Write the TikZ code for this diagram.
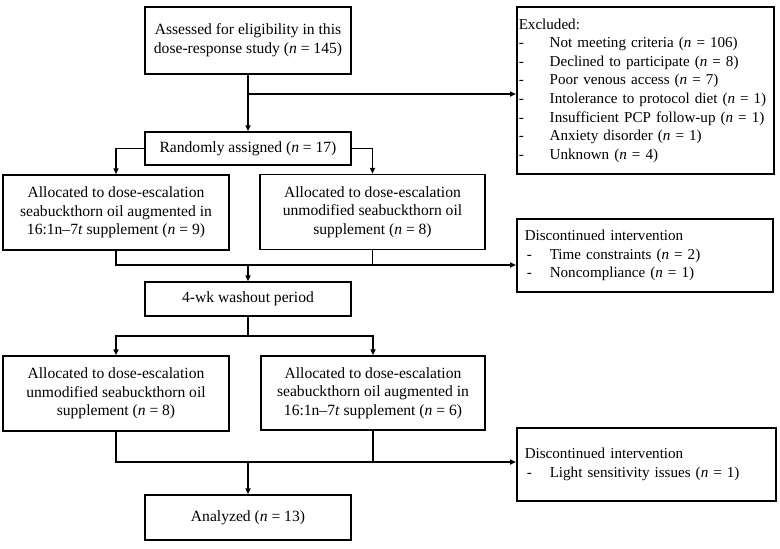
\documentclass[tikz,border=0pt]{standalone}
\usepackage{fontspec}
\setmainfont{Liberation Serif}
\usetikzlibrary{arrows.meta}
\newcommand{\nn}{\textit{n}}
\newcommand{\itm}[1]{\mbox{\makebox[31pt][l]{-}#1}}
\newcommand{\ditm}[1]{\mbox{\makebox[25pt][l]{\hspace{2pt}-}#1}}
\begin{document}
\begin{tikzpicture}[x=1pt,y=-1pt,
  txt/.style={font=\fontsize{15.6}{18.7}\selectfont},
  ltxt/.style={font=\fontsize{15.1}{18.6}\selectfont},
  box/.style={txt, draw, line width=1.5pt, align=center, inner sep=0pt},
  listbox/.style={ltxt, draw, line width=1.5pt, align=left, anchor=west},
  conn/.style={line width=1.5pt},
  arr/.style={conn, -{Triangle[length=6pt,width=5pt]}}]
\useasboundingbox (0,0) rectangle (780,549);
\fill[white] (0,0) rectangle (780,549);

\node[box, minimum width=206pt, minimum height=67pt] (assess) at (248,40.5)
  {Assessed for eligibility in this\\dose-response study (\nn{} = 145)};
\node[listbox, minimum height=167pt, text width=253pt, inner xsep=2pt, inner ysep=0pt] (excl) at (516,90.5)
  {Excluded:\\
   \itm{Not meeting criteria (\nn{} = 106)}\\
   \itm{Declined to participate (\nn{} = 8)}\\
   \itm{Poor venous access (\nn{} = 7)}\\
   \itm{Intolerance to protocol diet (\nn{} = 1)}\\
   \itm{Insufficient PCP follow-up (\nn{} = 1)}\\
   \itm{Anxiety disorder (\nn{} = 1)}\\
   \itm{Unknown (\nn{} = 4)}};
\node[box, minimum width=206pt, minimum height=33pt] (rand) at (248,148.5)
  {Randomly assigned (\nn{} = 17)};
\node[box, minimum width=226pt, minimum height=75pt] (a1) at (116,212.5)
  {Allocated to dose-escalation\\seabuckthorn oil augmented in\\16:1n–7\textit{t} supplement (\nn{} = 9)};
\node[box, minimum width=225pt, minimum height=75pt] (a2) at (372.5,212)
  {Allocated to dose-escalation\\unmodified seabuckthorn oil\\supplement (\nn{} = 8)};
\node[listbox, minimum height=73pt, text width=240pt, inner xsep=8pt, inner ysep=0pt] (disc1) at (516,255.5)
  {Discontinued intervention\\
   \ditm{Time constraints (\nn{} = 2)}\\
   \ditm{Noncompliance (\nn{} = 1)}};
\node[box, minimum width=206pt, minimum height=34pt] (wash) at (248,299)
  {4-wk washout period};
\node[box, minimum width=226pt, minimum height=75pt] (b1) at (116,393.5)
  {Allocated to dose-escalation\\unmodified seabuckthorn oil\\supplement (\nn{} = 8)};
\node[box, minimum width=224pt, minimum height=74pt] (b2) at (373,393)
  {Allocated to dose-escalation\\seabuckthorn oil augmented in\\16:1n–7\textit{t} supplement (\nn{} = 6)};
\node[listbox, minimum height=73pt, text width=243pt, inner xsep=8pt, inner ysep=0pt] (disc2) at (516,464.5)
  {Discontinued intervention\\
   \ditm{Light sensitivity issues (\nn{} = 1)}};
\node[box, minimum width=206pt, minimum height=45pt] (anal) at (248,517.5)
  {Analyzed (\nn{} = 13)};

% connectors
\coordinate (j1) at (248,94);
\draw[arr] (assess.south) -- (rand.north);
\draw[arr] (j1) -- (j1 -| excl.west);
\draw[arr] (rand.west) -| (a1.north);
\draw[arr] (rand.east) -| (a2.north);

\coordinate (j2) at (248,265);
\draw[conn] (a1.south) -- (a1.south |- j2) -- (a2.south |- j2) -- (a2.south);
\draw[arr] (j2) -- (wash.north);
\draw[arr] (a2.south |- j2) -- (j2 -| disc1.west);

\coordinate (j3) at (248,336);
\draw[conn] (wash.south) -- (j3);
\draw[arr] (j3) -| (b1.north);
\draw[arr] (j3) -| (b2.north);

\coordinate (j4) at (248,462);
\draw[conn] (b1.south) -- (b1.south |- j4) -- (b2.south |- j4) -- (b2.south);
\draw[arr] (j4) -- (anal.north);
\draw[arr] (b2.south |- j4) -- (j4 -| disc2.west);
\end{tikzpicture}
\end{document}
